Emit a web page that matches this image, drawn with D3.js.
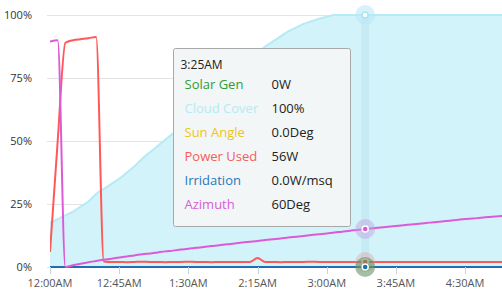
<!DOCTYPE html>
<html>
<head>
<meta charset="utf-8">
<script src="https://cdn.jsdelivr.net/npm/d3@7"></script>
<style>
  body { margin: 0; background: #fff; }
  svg { display: block; font-family: "Open Sans", sans-serif; }
</style>
</head>
<body>
<svg id="chart" width="502" height="303"></svg>
<script>
// minutes after midnight, one reading every 5 min
const minutes = d3.range(0, 300, 5);

// values in % of the chart scale
const cloudCover = [17.5,19,20.5,22,24,26,29,31,33,35,37.5,40,43,45.5,48,50.5,53,55.5,58.5,61,
  64,67,70,73,76,79,82,85,87.5,89.5,91.5,93.5,95,96.5,97.5,98.5,99.3,100,100,100,
  100,100,100,100,100,100,100,100,100,100,100,100,100,100,100,100,100,100,100,100];
const powerUsed = [6,50,89,90,90.4,90.8,91.3,2.2,2.0,2.0,1.9,2.0,2.1,2.0,2.0,1.9,2.0,2.0,2.1,2.0,
  2.0,1.9,2.0,2.0,2.0,2.0,2.0,3.6,2.0,2.0,1.9,2.0,2.0,2.0,2.1,2.0,2.0,2.0,2.0,2.0,
  2.0,2.0,2.0,2.0,2.0,2.0,2.0,2.0,2.0,2.0,2.0,2.0,2.0,2.0,2.0,2.0,2.0,2.0,2.0,2.0];
const azimuth = [89.5,90,0,0.7,1.3,1.9,2.4,2.9,3.3,3.8,4.2,4.6,5.1,5.4,5.8,6.2,6.5,6.9,7.2,7.6,
  7.9,8.3,8.6,9.0,9.3,9.7,10.0,10.3,10.7,11.0,11.3,11.7,12.0,12.3,12.7,13.0,13.3,13.7,14.0,14.4,
  14.7,15.1,15.4,15.7,16.0,16.3,16.6,16.9,17.2,17.5,17.8,18.1,18.4,18.7,19.0,19.2,19.5,19.8,20.0,20.3];
const solarGen = [0,0,0,0,0,0,0,0,0,0,0,0,0,0,0,0,0,0,0,0,0,0,0,0,0,0,0,0,0,0,
  0,0,0,0,0,0,0,0,0,0,0,0,0,0,0,0,0,0,0,0,0,0,0,0,0,0,0,0,0,0];
const sunAngle = [0,0,0,0,0,0,0,0,0,0,0,0,0,0,0,0,0,0,0,0,0,0,0,0,0,0,0,0,0,0,
  0,0,0,0,0,0,0,0,0,0,0,0,0,0,0,0,0,0,0,0,0,0,0,0,0,0,0,0,0,0];
const irradiation = [0,0,0,0,0,0,0,0,0,0,0,0,0,0,0,0,0,0,0,0,0,0,0,0,0,0,0,0,0,0,
  0,0,0,0,0,0,0,0,0,0,0,0,0,0,0,0,0,0,0,0,0,0,0,0,0,0,0,0,0,0];

const yTicks = [0, 25, 50, 75, 100];
const xTickMinutes = [0, 45, 90, 135, 180, 225, 270];

// tooltip contents
const hoverMinute = 205;
const tipTitle = "3:25AM";
const tipLabels = ["Solar Gen", "Cloud Cover", "Sun Angle", "Power Used", "Irridation", "Azimuth"];
const tipValues = ["0W", "100%", "0.0Deg", "56W", "0.0W/msq", "60Deg"];
const tipColors = ["#2e9c3a", "#b5eaf4", "#ecc51c", "#f45d5d", "#2a78b8", "#d85cd6"];

const base = new Date(2020, 0, 1, 0, 0);
const toDate = m => new Date(base.getTime() + m * 60000);

const svg = d3.select("#chart");
const x = d3.scaleTime().domain([toDate(0), toDate(294)]).range([50, 502]);
const y = d3.scaleLinear().domain([0, 100]).range([267, 15]);

// gridlines + y labels
const grid = svg.append("g");
grid.selectAll("line").data(yTicks).join("line")
  .attr("x1", 47).attr("x2", 502)
  .attr("y1", d => y(d) + 0.5).attr("y2", d => y(d) + 0.5)
  .attr("stroke", "#e3e3e3").attr("stroke-width", 1);
grid.selectAll("text").data(yTicks).join("text")
  .attr("x", 32).attr("y", d => y(d)).attr("dy", "0.35em")
  .attr("text-anchor", "end").attr("font-size", 11).attr("fill", "#333")
  .text(d => d + "%");

svg.append("clipPath").attr("id", "clip")
  .append("rect").attr("x", 50).attr("y", 0).attr("width", 452).attr("height", 270);

const plot = svg.append("g").attr("clip-path", "url(#clip)");

const pts = arr => arr.map((v, i) => [toDate(minutes[i]), v]);

// cloud cover area
plot.append("path")
  .datum(pts(cloudCover))
  .attr("fill", "#d3f3fa")
  .attr("d", d3.area().x(d => x(d[0])).y0(y(0)).y1(d => y(d[1])).curve(d3.curveMonotoneX));
plot.append("path")
  .datum(pts(cloudCover))
  .attr("fill", "none").attr("stroke", "#b6eaf4").attr("stroke-width", 2)
  .attr("d", d3.line().x(d => x(d[0])).y(d => y(d[1])).curve(d3.curveMonotoneX));

// crosshair band
const hx = x(toDate(hoverMinute));
plot.append("rect")
  .attr("x", hx - 4).attr("y", y(100)).attr("width", 8).attr("height", y(0) - y(100))
  .attr("fill", "#b9e3ee").attr("opacity", 0.45);

// x axis ticks + labels
const xAxis = svg.append("g");
xAxis.selectAll("line").data(xTickMinutes).join("line")
  .attr("x1", d => Math.round(x(toDate(d))) + 0.5).attr("x2", d => Math.round(x(toDate(d))) + 0.5)
  .attr("y1", 267).attr("y2", 274)
  .attr("stroke", "#c5d4e4");
xAxis.selectAll("text").data(xTickMinutes).join("text")
  .attr("x", d => x(toDate(d))).attr("y", 283).attr("dy", "0.35em")
  .attr("text-anchor", "middle").attr("font-size", 11).attr("fill", "#555")
  .text(d => d3.timeFormat("%-I:%M%p")(toDate(d)));

const line = d3.line().x(d => x(d[0])).y(d => y(d[1])).curve(d3.curveMonotoneX);
const series = [
  { data: solarGen, color: "#2e9c3a" },
  { data: sunAngle, color: "#ecc51c" },
  { data: powerUsed, color: "#ff5858" },
  { data: irradiation, color: "#1f6db3" },
  { data: azimuth, color: "#dc5ad6" }
];
series.forEach(s => {
  plot.append("path").datum(pts(s.data))
    .attr("fill", "none").attr("stroke", s.color).attr("stroke-width", 2)
    .attr("stroke-linejoin", "round")
    .attr("d", line);
});

// hover markers
const hi = minutes.indexOf(hoverMinute);
const markers = svg.append("g");
const marker = (v, halo, fill, stroke) => {
  markers.append("circle").attr("cx", hx).attr("cy", y(v)).attr("r", 10)
    .attr("fill", halo);
  markers.append("circle").attr("cx", hx).attr("cy", y(v)).attr("r", 3)
    .attr("fill", fill).attr("stroke", stroke).attr("stroke-width", 1.5);
};
marker(cloudCover[hi], "rgba(185,232,245,0.55)", "#fff", "#a8e4f2");
marker(azimuth[hi], "rgba(190,160,225,0.45)", "#dc5ad6", "#fff");
marker(powerUsed[hi], "rgba(230,150,150,0.35)", "#ff5858", "#fff");
marker(solarGen[hi], "rgba(90,140,90,0.55)", "#fff", "#2e9c3a");
marker(irradiation[hi], "rgba(90,140,90,0.0)", "#1f6db3", "#fff");

// tooltip
const tip = svg.append("g").attr("transform", "translate(173.5,48.5)");
tip.append("rect").attr("width", 177).attr("height", 178).attr("rx", 2)
  .attr("fill", "#f2f6f6").attr("stroke", "#a8a8a8").attr("stroke-width", 1);
tip.append("text").attr("x", 7).attr("y", 16).attr("dy", "0.35em")
  .attr("font-size", 12).attr("fill", "#222").text(tipTitle);
tipLabels.forEach((lab, i) => {
  tip.append("text").attr("x", 11).attr("y", 36 + i * 24).attr("dy", "0.35em")
    .attr("font-size", 13).attr("fill", tipColors[i]).text(lab);
  tip.append("text").attr("x", 98).attr("y", 36 + i * 24).attr("dy", "0.35em")
    .attr("font-size", 13).attr("fill", "#222").text(tipValues[i]);
});
</script>
</body>
</html>
